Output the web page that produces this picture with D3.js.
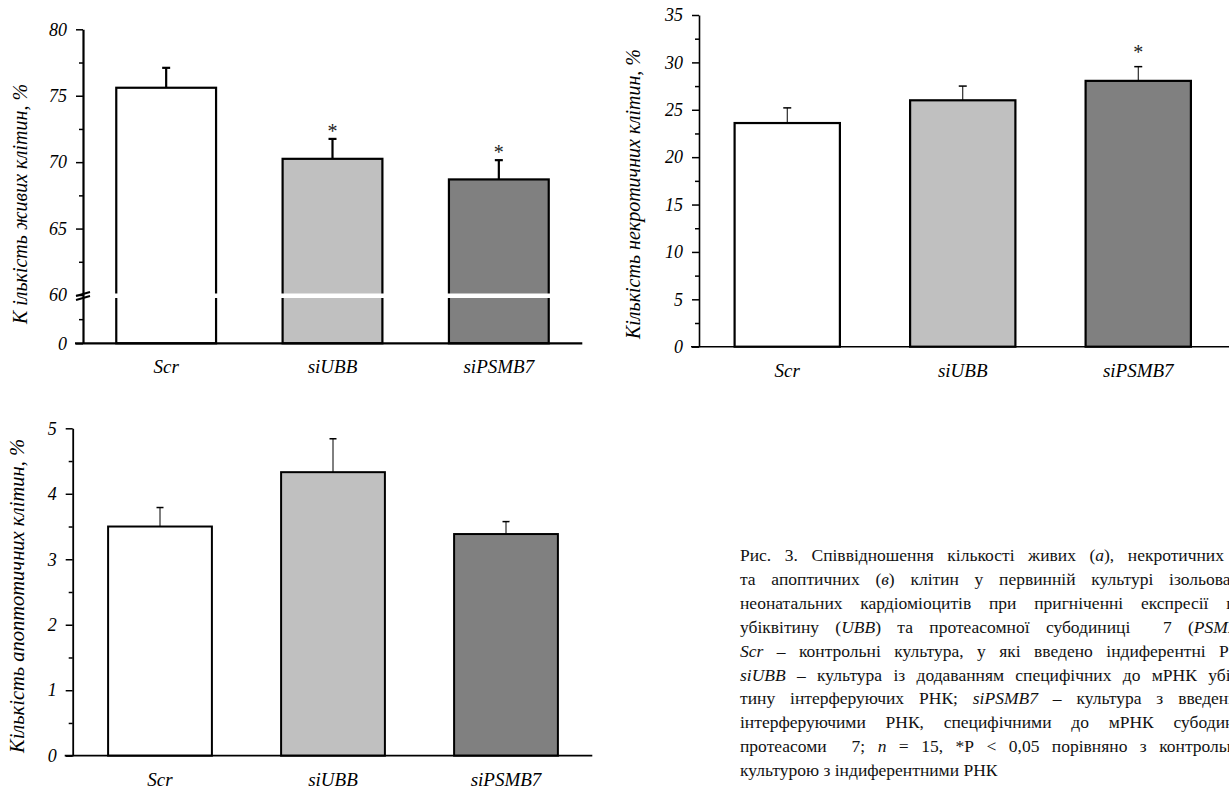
<!DOCTYPE html>
<html><head><meta charset="utf-8">
<script src="https://cdn.jsdelivr.net/npm/d3@7"></script>
<style>
body{margin:0;background:#fff}
svg{display:block}
</style>
</head><body>
<svg id="c" width="1229" height="792"></svg>
<script>
// ---------- DATA ----------
const categories = ["Scr", "siUBB", "siPSMB7"];
const barColors = ["#ffffff", "#c0c0c0", "#808080"];

const liveMeans  = [75.6, 70.25, 68.7];
const liveErrors = [1.5, 1.5, 1.45];
const liveSig    = [false, true, true];
const liveTicks  = [0, 60, 65, 70, 75, 80];
const liveMinor  = [30, 62.5, 67.5, 72.5, 77.5];

const necroMeans  = [23.6, 26.0, 28.05];
const necroErrors = [1.6, 1.5, 1.5];
const necroSig    = [false, false, true];
const necroTicks  = [0, 5, 10, 15, 20, 25, 30, 35];
const necroMinor  = [2.5, 7.5, 12.5, 17.5, 22.5, 27.5, 32.5];

const apoMeans  = [3.5, 4.33, 3.385];
const apoErrors = [0.29, 0.51, 0.19];
const apoSig    = [false, false, false];
const apoTicks  = [0, 1, 2, 3, 4, 5];
const apoMinor  = [0.5, 1.5, 2.5, 3.5, 4.5];

const titleLive  = "К ількість живих клітин, %";
const titleNecro = "Кількість некротичних клітин, %";
const titleApo   = "Кількість апоптотичних клітин, %";

const captionLines = [
  "Рис. 3. Співвідношення кількості живих (_а_), некротичних (_б_)",
  "та апоптичних (_в_) клітин у первинній культурі ізольованих",
  "неонатальних кардіоміоцитів при пригніченні експресії гена",
  "убіквітину (_UBB_) та протеасомної субодиниці  7 (_PSMB7_):",
  "_Scr_ – контрольні культура, у які введено індиферентні РНК;",
  "_siUBB_ – культура із додаванням специфічних до мРНК убікві-",
  "тину інтерферуючих РНК; _siPSMB7_ – культура з введеними",
  "інтерферуючими РНК, специфічними до мРНК субодиниці",
  "протеасоми  7; _n_ = 15, *P < 0,05 порівняно з контрольною",
  "культурою з індиферентними РНК"
];

// ---------- pick an installed serif face ----------
function pickFont(cands) {
  const cv = document.createElement("canvas").getContext("2d");
  const s = "mmmmmmmmmwwwwwlliІклітинКількість";
  const w = f => { cv.font = "60px " + f; return cv.measureText(s).width; };
  const bases = ["monospace", "sans-serif"];
  const bw = bases.map(w);
  for (const c of cands) {
    if (bases.every((b, i) => Math.abs(w(`"${c}", ${b}`) - bw[i]) > 0.5)) return `"${c}"`;
  }
  return "serif";
}
const FONT = pickFont(["Liberation Serif", "Tinos", "Times New Roman", "Times", "DejaVu Serif", "Noto Serif", "FreeSerif"]);

// ---------- DRAW ----------
const svg = d3.select("#c").style("font-family", FONT);
svg.append("rect").attr("width", 1229).attr("height", 792).attr("fill", "#fff");

function drawPanel(p) {
  const g = svg.append("g");
  const x = d3.scaleBand().domain(categories).range(p.xRange).paddingInner(0.4).paddingOuter(0.2);
  const y = d3.scaleLinear().domain(p.yDomain).range(p.yRange);
  const y0 = y(0);
  const cx = d => x(d.c) + x.bandwidth() / 2;
  const data = categories.map((c, i) => ({c, v: p.means[i], e: p.errors[i], s: p.sig[i], col: barColors[i]}));

  g.selectAll(".bar").data(data).join("rect").attr("class", "bar")
    .attr("x", d => x(d.c)).attr("y", d => y(d.v))
    .attr("width", x.bandwidth()).attr("height", d => y0 - y(d.v))
    .attr("fill", d => d.col).attr("stroke", "#000").attr("stroke-width", p.barStroke);

  if (p.breakAt != null) {
    g.selectAll(".brk").data(data).join("rect").attr("class", "brk")
      .attr("x", d => x(d.c) - 3).attr("y", y(p.breakAt) - 1.5)
      .attr("width", x.bandwidth() + 6).attr("height", 4.5).attr("fill", "#fff");
  }

  const eb = g.selectAll(".eb").data(data).join("g").attr("class", "eb")
    .attr("stroke", "#000").attr("stroke-width", p.errStroke);
  eb.append("line").attr("x1", cx).attr("x2", cx)
    .attr("y1", d => y(d.v)).attr("y2", d => y(d.v + d.e));
  eb.append("line").attr("x1", d => cx(d) - p.capW / 2).attr("x2", d => cx(d) + p.capW / 2)
    .attr("y1", d => y(d.v + d.e)).attr("y2", d => y(d.v + d.e)).attr("stroke-width", p.capStroke);

  g.selectAll(".ast").data(data.filter(d => d.s)).join("text").attr("class", "ast")
    .attr("x", cx).attr("y", d => y(d.v + d.e) - p.astOff + 9)
    .attr("text-anchor", "middle").attr("font-size", 20).attr("font-family", FONT)
    .attr("fill", "#222").text("*");

  // y axis
  const ax = g.append("g").attr("transform", `translate(${p.axisX},0)`)
    .call(d3.axisLeft(y).tickValues(p.ticks).tickSize(7).tickSizeOuter(0).tickPadding(9).tickFormat(d => d));
  ax.attr("font-family", FONT);
  ax.select(".domain").attr("stroke-width", p.axisStroke);
  ax.selectAll(".tick line").attr("stroke-width", 1.5);
  ax.selectAll(".tick text").attr("font-style", "italic").attr("font-family", FONT)
    .attr("font-size", 18).attr("fill", "#000");
  const mx = g.append("g").attr("transform", `translate(${p.axisX},0)`)
    .call(d3.axisLeft(y).tickValues(p.minor).tickSize(4).tickSizeOuter(0).tickFormat(""));
  mx.select(".domain").remove();
  mx.selectAll(".tick line").attr("stroke-width", 1.5);

  if (p.breakAt != null) {
    const yb = y(p.breakAt) + 1;
    [0, 4].forEach(o => g.append("line")
      .attr("x1", p.axisX - 7).attr("y1", yb + o).attr("x2", p.axisX + 7).attr("y2", yb + o - 4)
      .attr("stroke", "#000").attr("stroke-width", 2));
  }

  // x axis line
  g.append("line").attr("x1", p.axisX - 8).attr("x2", p.xLineEnd).attr("y1", y0).attr("y2", y0)
    .attr("stroke", "#000").attr("stroke-width", p.axisStroke);

  // x labels
  g.selectAll(".xl").data(categories).join("text").attr("class", "xl")
    .attr("x", d => x(d) + x.bandwidth() / 2).attr("y", y0 + 30)
    .attr("text-anchor", "middle").attr("font-style", "italic").attr("font-family", FONT)
    .attr("font-size", 19).attr("fill", "#000").text(d => d);

  // y title
  g.append("text").attr("transform", `translate(${p.titleX},${p.titleY}) rotate(-90)`)
    .attr("text-anchor", "middle").attr("font-style", "italic").attr("font-family", FONT)
    .attr("font-size", p.titleSize).attr("fill", "#000").text(p.title);
}

drawPanel({
  means: liveMeans, errors: liveErrors, sig: liveSig, ticks: liveTicks, minor: liveMinor,
  yDomain: [0, 60, 80], yRange: [343.3, 295, 29.3], breakAt: 60,
  xRange: [83, 582], axisX: 83, xLineEnd: 582.3,
  barStroke: 2.2, errStroke: 2.2, capStroke: 2.2, capW: 8, astOff: 10, axisStroke: 2.2,
  title: titleLive, titleX: 27, titleY: 204, titleSize: 20
});
drawPanel({
  means: necroMeans, errors: necroErrors, sig: necroSig, ticks: necroTicks, minor: necroMinor,
  yDomain: [0, 35], yRange: [346.7, 15], breakAt: null,
  xRange: [699.5, 1226], axisX: 699, xLineEnd: 1229,
  barStroke: 2.2, errStroke: 1, capStroke: 1.5, capW: 8, astOff: 17, axisStroke: 1.6,
  title: titleNecro, titleX: 640, titleY: 194, titleSize: 20
});
drawPanel({
  means: apoMeans, errors: apoErrors, sig: apoSig, ticks: apoTicks, minor: apoMinor,
  yDomain: [0, 5], yRange: [755.7, 428.3], breakAt: null,
  xRange: [73.5, 592.5], axisX: 72.7, xLineEnd: 592.3,
  barStroke: 2, errStroke: 1, capStroke: 1.5, capW: 7, astOff: 10, axisStroke: 1.8,
  title: titleApo, titleX: 24, titleY: 596, titleSize: 20.5
});

// caption (justified)
const capX = 740, capTop = 561, capLead = 23.9, capW = 518, capSize = 17.5, spaceW = 4.4;
const cap = svg.append("g").attr("font-size", capSize).attr("font-family", FONT).attr("fill", "#111");
captionLines.forEach((line, li) => {
  const words = line.split(" ");
  const by = capTop + li * capLead;
  const nodes = words.map(w => {
    const t = cap.append("text").attr("y", by).attr("x", 0).attr("font-family", FONT);
    w.split("_").forEach((seg, k) => {
      if (seg) t.append("tspan").attr("font-style", k % 2 ? "italic" : "normal").text(seg);
    });
    return t;
  });
  const widths = nodes.map(t => t.node().getComputedTextLength());
  const last = li === captionLines.length - 1;
  const gap = last ? spaceW : Math.max(spaceW, (capW - d3.sum(widths)) / (words.length - 1));
  let xx = capX;
  nodes.forEach((t, i) => { t.attr("x", xx); xx += widths[i] + gap; });
});
</script>
</body></html>
